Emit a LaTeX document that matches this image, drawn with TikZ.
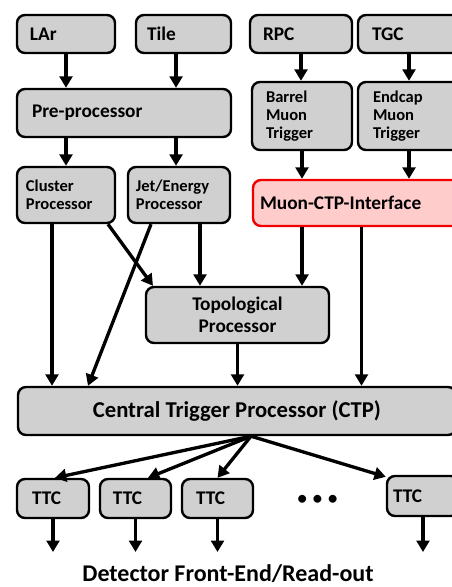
\documentclass[tikz,border=0pt]{standalone}
\usepackage{fontspec}
\setmainfont{Carlito}
\usetikzlibrary{arrows.meta,calc}
\definecolor{boxgray}{RGB}{208,208,208}
\definecolor{pinkfill}{RGB}{255,204,204}
\definecolor{redline}{RGB}{240,0,0}
\begin{document}
\begin{tikzpicture}[x=0.75pt,y=-0.75pt,
  bx/.style={draw=black, line width=1.8pt, fill=boxgray, rounded corners=6pt,
    inner ysep=0pt, font=\bfseries\fontsize{14.5}{16}\selectfont},
  small/.style={font=\bfseries\fontsize{12.4}{13.5}\selectfont},
  arr/.style={line width=2.5pt, -{Triangle[width=9.5pt,length=8.5pt]}},
]
\clip (0,0) rectangle (452,587);
\useasboundingbox (0,0) rectangle (452,587);

% top row
\node[bx, minimum width=73.5pt, minimum height=28.5pt, text width=54pt, inner xsep=9.75pt, align=left] (LAr) at (66,34) {LAr};
\node[bx, minimum width=71.25pt, minimum height=28.5pt, text width=54.75pt, inner xsep=8.25pt, align=left] (Tile) at (183.5,34) {Tile};
\node[bx, minimum width=76.5pt, minimum height=28.5pt, text width=57pt, inner xsep=9.75pt, align=left] (RPC) at (301,34) {RPC};
\node[bx, minimum width=76.5pt, minimum height=28.5pt, text width=55.5pt, inner xsep=10.5pt, align=left] (TGC) at (409,34) {TGC};

% second row
\node[bx, minimum width=160.5pt, minimum height=36pt, text width=138pt, inner xsep=11.25pt, align=left] (Pre) at (124,113) {Pre-processor};
\node[bx, small, minimum width=75pt, minimum height=51pt, text width=54pt, inner xsep=10.5pt, align=left] (Barrel) at (302,116) {Barrel\\Muon\\Trigger};
\node[bx, small, minimum width=76.5pt, minimum height=51pt, text width=54pt, inner xsep=11.25pt, align=left] (Endcap) at (409,116) {Endcap\\Muon\\Trigger};

% third row
\node[bx, small, minimum width=73.5pt, minimum height=42pt, text width=60pt, inner xsep=6.75pt, align=left] (Cluster) at (66,195) {Cluster\\Processor};
\node[bx, small, minimum width=76.5pt, minimum height=42pt, text width=64.5pt, inner xsep=6pt, align=left] (Jet) at (179,195) {Jet/Energy\\Processor};
\node[bx, draw=redline, fill=pinkfill, minimum width=162.75pt, minimum height=34.5pt, text width=152.25pt, inner xsep=5.25pt, align=left] (Muon) at (361.5,203) {Muon-CTP-Interface};

% topological
\node[bx, minimum width=137.25pt, minimum height=42pt, align=center, font=\bfseries\fontsize{14.5}{16.5}\selectfont] (Topo) at (237.5,315) {Topological\\Processor};

% CTP
\node[bx, minimum width=328.5pt, minimum height=36pt, align=center, font=\bfseries\fontsize{17}{19}\selectfont] (CTP) at (237,411) {Central Trigger Processor (CTP)};

% TTC row
\node[bx, minimum width=54pt, minimum height=29.25pt, text width=31.5pt, inner xsep=11.25pt, align=left] (TTC1) at (53,498.5) {TTC};
\node[bx, minimum width=53.25pt, minimum height=29.25pt, text width=33.75pt, inner xsep=9.75pt, align=left] (TTC2) at (135.5,498.5) {TTC};
\node[bx, minimum width=53.25pt, minimum height=29.25pt, text width=32.25pt, inner xsep=10.5pt, align=left] (TTC3) at (217.5,498.5) {TTC};
\node[bx, minimum width=54pt, minimum height=30pt, text width=45pt, inner xsep=4.5pt, align=left] (TTC4) at (423,496) {TTC};

\node[font=\bfseries\fontsize{14}{16}\selectfont] (dots) at (317.5,500) {•\hspace{4.5pt}•\hspace{4.5pt}•};
\node[font=\bfseries\fontsize{18}{20}\selectfont, inner sep=0pt] (det) at (228,574) {Detector Front-End/Read-out};

% arrows top
\coordinate (a2) at ([xshift=-5.6pt]Tile.south);
\draw[arr] (LAr.south) -- (LAr.south |- Pre.north);
\draw[arr] (a2) -- (a2 |- Pre.north);
\draw[arr] (LAr.south |- Pre.south) -- (LAr.south |- Cluster.north);
\draw[arr] (a2 |- Pre.south) -- (a2 |- Jet.north);
\draw[arr] (RPC.south) -- (RPC.south |- Barrel.north);
\draw[arr] (TGC.south) -- (TGC.south |- Endcap.north);
\draw[arr] (Barrel.south) -- (Barrel.south |- Muon.north);
\draw[arr] (Endcap.south) -- (Endcap.south |- Muon.north);

% middle arrows
\coordinate (c1) at ([xshift=-10.5pt]Cluster.south);
\coordinate (c2) at ([xshift=31.5pt]Cluster.south);
\coordinate (j1) at ([xshift=-21pt]Jet.south);
\coordinate (j2) at ([xshift=15.75pt]Jet.south);
\coordinate (m1) at ([xshift=-44.6pt]Muon.south);
\draw[arr] (c1) -- (c1 |- CTP.north);
\draw[arr] (c2) -- ([xshift=-63.4pt]Topo.north);
\draw[arr] (j1) -- ([xshift=-111.75pt]CTP.north);
\draw[arr] (j2) -- (j2 |- Topo.north);
\draw[arr] (m1) -- (m1 |- Topo.north);
\draw[arr] (Muon.south) -- (Muon.south |- CTP.north);
\draw[arr] (Topo.south) -- (Topo.south |- CTP.north);

% fan out
\coordinate (fan) at ([xshift=10.5pt]CTP.south);
\draw[arr] (fan) -- ([xshift=1.5pt]TTC1.north);
\draw[arr] (fan) -- ([xshift=9.4pt]TTC2.north);
\draw[arr] (fan) -- (TTC3.north);
\draw[arr] (fan) -- ([yshift=-1.5pt]TTC4.north west);

% TTC outputs
\coordinate (dn) at (0,552);
\draw[arr] (TTC1.south) -- (TTC1.south |- dn);
\draw[arr] (TTC2.south) -- (TTC2.south |- dn);
\draw[arr] (TTC3.south) -- (TTC3.south |- dn);
\draw[arr] (TTC4.south) -- (TTC4.south |- dn);
\end{tikzpicture}
\end{document}
